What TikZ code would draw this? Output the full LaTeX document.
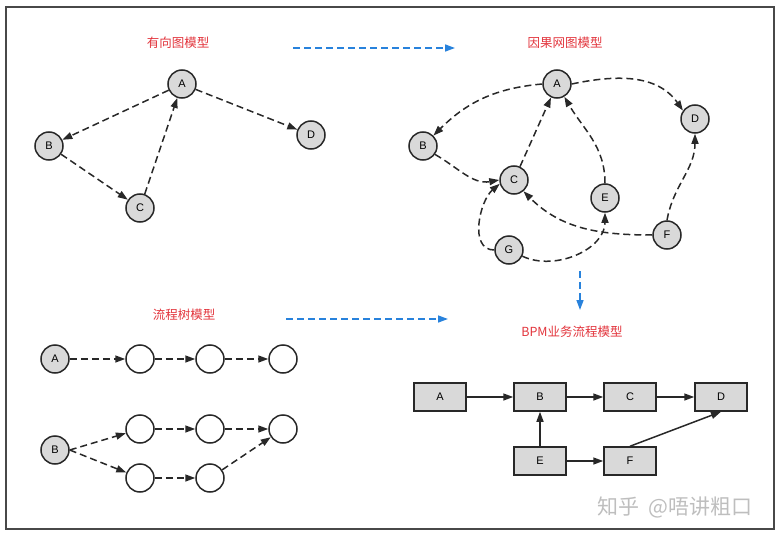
\documentclass[tikz,border=0pt]{standalone}
\usepackage{fontspec}
\setmainfont{Liberation Sans}
\newfontfamily\cjk{Noto Sans CJK SC}
\usetikzlibrary{arrows.meta}
\definecolor{ttlred}{RGB}{226,52,60}
\definecolor{lnk}{RGB}{40,40,40}
\definecolor{nfill}{RGB}{217,217,217}
\definecolor{bluearr}{RGB}{40,130,220}
\definecolor{wm}{RGB}{190,190,190}
\tikzset{
  cnode/.style={circle, draw=lnk, line width=1.5pt, fill=nfill, minimum size=28pt, inner sep=0pt, font=\fontsize{11}{13}\selectfont},
  enode/.style={circle, draw=lnk, line width=1.5pt, fill=white, minimum size=28pt, inner sep=0pt},
  bnode/.style={rectangle, draw=lnk, line width=1.5pt, fill=nfill, minimum width=52pt, minimum height=28pt, inner sep=0pt, font=\fontsize{11}{13}\selectfont},
  darr/.style={draw=lnk, line width=1.5pt, dash pattern=on 7pt off 4pt, -{Triangle[length=10pt,width=7pt]}},
  sarr/.style={draw=lnk, line width=1.5pt, -{Triangle[length=10pt,width=7pt]}},
  barr/.style={draw=bluearr, line width=1.5pt, dash pattern=on 7pt off 4pt, -{Triangle[length=10pt,width=7pt]}},
  ttl/.style={text=ttlred, font=\cjk\fontsize{12.5}{14}\selectfont},
}
\begin{document}
\begin{tikzpicture}[x=1pt,y=-1pt]
\useasboundingbox (0,0) rectangle (780,538);
\draw[draw=lnk!85, line width=1.6pt] (6,7) rectangle (774,529);

% top-left
\node[ttl] (t1) at (178,43) {有向图模型};
\node[cnode] (a1) at (182,84) {A};
\node[cnode] (b1) at (49,146) {B};
\node[cnode] (c1) at (140,208) {C};
\node[cnode] (d1) at (311,135) {D};
\draw[darr] (a1) -- (b1);
\draw[darr] (b1) -- (c1);
\draw[darr] (c1) -- (a1);
\draw[darr] (a1) -- (d1);

% blue arrows
\coordinate (h1s) at (293,48);
\coordinate (h1e) at (455,48);
\draw[barr] (h1s) -- (h1e);
\coordinate (h2s) at (286,319);
\coordinate (h2e) at (448,319);
\draw[barr] (h2s) -- (h2e);
\coordinate (v1s) at (580,271);
\coordinate (v1e) at (580,310);
\draw[barr] (v1s) -- (v1e);

% top-right
\node[ttl] (t2) at (565,43) {因果网图模型};
\node[cnode] (a2) at (557,84) {A};
\node[cnode] (b2) at (423,146) {B};
\node[cnode] (c2) at (514,180) {C};
\node[cnode] (d2) at (695,119) {D};
\node[cnode] (e2) at (605,198) {E};
\node[cnode] (f2) at (667,235) {F};
\node[cnode] (g2) at (509,250) {G};
\draw[darr] (a2.west) to[out=185,in=45] (b2.45);
\draw[darr] (a2.east) to[out=12,in=125] (d2.145);
\draw[darr] (b2.-35) to[out=-30,in=190] (c2.west);
\draw[darr] (c2) -- (a2);
\draw[darr] (e2.north) to[out=90,in=-60] (a2.-60);
\draw[darr] (f2.north) to[out=80,in=-90] (d2.south);
\draw[darr] (f2.west) to[out=180,in=-45] (c2.-50);
\draw[darr] (g2.west) to[out=180,in=-140] (c2.195);
\draw[darr] (g2.-25) to[out=-25,in=-90] (e2.south);

% bottom-left
\node[ttl] (t3) at (184,315) {流程树模型};
\node[cnode] (a3) at (55,359) {A};
\node[enode] (r1) at (140,359) {};
\node[enode] (r2) at (210,359) {};
\node[enode] (r3) at (283,359) {};
\node[cnode] (b3) at (55,450) {B};
\node[enode] (u1) at (140,429) {};
\node[enode] (u2) at (210,429) {};
\node[enode] (u3) at (283,429) {};
\node[enode] (l1) at (140,478) {};
\node[enode] (l2) at (210,478) {};
\draw[darr] (a3) -- (r1);
\draw[darr] (r1) -- (r2);
\draw[darr] (r2) -- (r3);
\draw[darr] (b3.east) -- (u1);
\draw[darr] (b3.east) -- (l1);
\draw[darr] (u1) -- (u2);
\draw[darr] (u2) -- (u3);
\draw[darr] (l1) -- (l2);
\draw[darr] (l2) -- (u3);

% bottom-right
\node[ttl] (t4) at (572,332) {BPM业务流程模型};
\node[bnode] (a4) at (440,397) {A};
\node[bnode] (b4) at (540,397) {B};
\node[bnode] (c4) at (630,397) {C};
\node[bnode] (d4) at (721,397) {D};
\node[bnode] (e4) at (540,461) {E};
\node[bnode] (f4) at (630,461) {F};
\draw[sarr] (a4) -- (b4);
\draw[sarr] (b4) -- (c4);
\draw[sarr] (c4) -- (d4);
\draw[sarr] (e4) -- (b4);
\draw[sarr] (e4) -- (f4);
\draw[sarr] (f4.north) -- (d4.south);

% watermark
\node[text=wm, font=\cjk\fontsize{21}{24}\selectfont] (wmk) at (675,507) {知乎\ \ @唔讲粗口};
\end{tikzpicture}
\end{document}
